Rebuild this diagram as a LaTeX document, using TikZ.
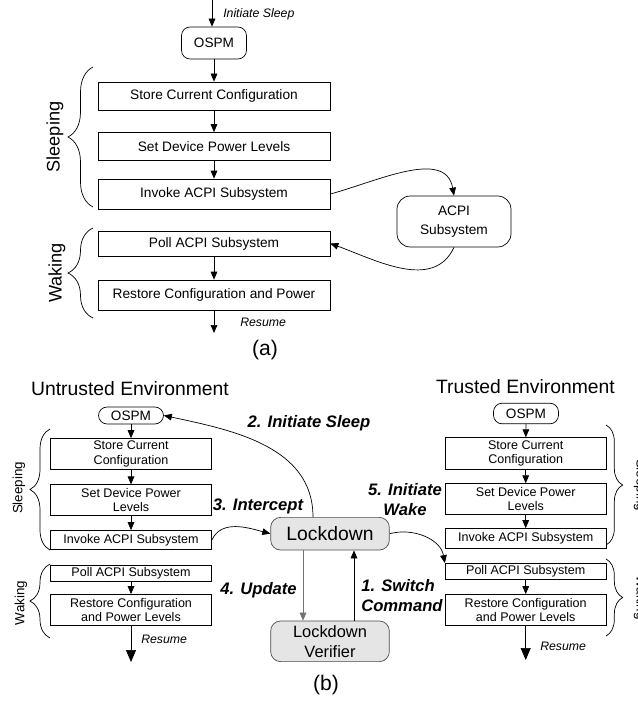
\documentclass[tikz,border=0pt]{standalone}
\usepackage{fontspec}
\setmainfont{Liberation Sans}
\usetikzlibrary{%
  arrows.meta,%
  calc,%
  decorations.pathreplacing%
}

\begin{document}
\begin{tikzpicture}[x=0.03cm,y=-0.03cm,line width=0.6pt,
  >={Triangle[length=2.4mm,width=2mm]},
  stepA/.style={draw,minimum width=6.96cm,minimum height=0.84cm,inner sep=1pt,
    font=\fontsize{11.7}{14}\selectfont},
  stepB/.style={draw,minimum width=4.83cm,inner sep=0.5pt,align=center,
    font=\fontsize{10.7}{12.2}\selectfont},
  ospm/.style={draw,rounded corners=0.26cm,minimum width=1.95cm,inner sep=1pt,
    font=\fontsize{11.6}{13}\selectfont},
  lockbox/.style={draw=black!70,fill=black!10,rounded corners=0.3cm,
    minimum width=3.56cm,inner sep=1pt,align=center},
  cue/.style={font=\fontsize{10.5}{12}\selectfont\itshape},
  step label/.style={font=\fontsize{14.2}{17}\selectfont\bfseries\itshape},
  phase/.style={font=\fontsize{#1}{#1}\selectfont},
  brc/.style={decorate,decoration={brace,amplitude=#1}},
  bigtip/.style={-{Triangle[length=3.6mm,width=3mm]}}
]
  \useasboundingbox (0,0) rectangle (637,702);
  \clip (0,0) rectangle (637,702);

  % (a)
  \coordinate (sleepA) at (212,0);
  \node[ospm,minimum height=0.96cm] (ospmA) at (214,43) {OSPM};
  \node[stepA] (storeA) at (214,96) {Store Current Configuration};
  \node[stepA] (setA) at (214,146.5) {Set Device Power Levels};
  \node[stepA,minimum height=0.9cm] (invA) at (214,194) {Invoke ACPI Subsystem};
  \node[stepA,minimum height=0.75cm] (pollA) at (214,243.5) {Poll ACPI Subsystem};
  \node[stepA,minimum height=0.9cm] (restA) at (214,295) {Restore Configuration and Power};
  \node[draw,rounded corners=0.4cm,minimum width=3.42cm,minimum height=1.53cm,
    align=center,font=\fontsize{11.7}{16}\selectfont] (acpi) at (454,221.5) {ACPI\\Subsystem};
  \coordinate (resA) at (214,333);

  \draw[->] (sleepA) -- (sleepA |- ospmA.north);
  \node[cue,anchor=west] (cueA) at (219,14) {Initiate Sleep};
  \draw[->] (ospmA) -- (storeA);
  \draw[->] (storeA) -- (setA);
  \draw[->] (setA) -- (invA);
  \draw[->] (pollA) -- (restA);
  \draw[->] (restA.south) -- (resA);
  \node[cue,anchor=west] (resLblA) at (236,322) {Resume};
  \draw[->] (invA.east) to[out=15,in=100] (acpi.north);
  \draw[->] (acpi.south) to[out=-115,in=-20] (pollA.east);

  \draw[brc=0.75cm] (93,207) -- (93,67);
  \draw[brc=0.75cm] (93,318) -- (93,228);
  \node[phase=15.5,rotate=90] (slpA) at (55,137) {Sleeping};
  \node[phase=15.5,rotate=90] (wakA) at (57,273) {Waking};
  \node[font=\fontsize{18}{20}\selectfont] (capA) at (265,350) {(a)};

  % (b) untrusted side
  \node[font=\fontsize{16.5}{19}\selectfont] (untr) at (130,389) {Untrusted Environment};
  \node[ospm,minimum height=0.51cm] (ospmL) at (131,415.5) {OSPM};
  \node[stepB,minimum height=0.93cm] (storeL) at (131,454) {Store Current\\Configuration};
  \node[stepB,minimum height=0.915cm] (setL) at (131,500) {Set Device Power\\Levels};
  \node[stepB,minimum height=0.57cm] (invL) at (131,540) {Invoke ACPI Subsystem};
  \node[stepB,minimum height=0.48cm] (pollL) at (131,573) {Poll ACPI Subsystem};
  \node[stepB,minimum height=0.93cm] (restL) at (131,610) {Restore Configuration\\and Power Levels};
  \coordinate (resL) at (131,662);

  \draw[->] (ospmL) -- (storeL);
  \draw[->] (storeL) -- (setL);
  \draw[->] (setL) -- (invL);
  \draw[->] (pollL) -- (restL);
  \draw[bigtip] (restL.south) -- (resL);
  \node[cue,anchor=west] (resLblL) at (137,639) {Resume};

  \draw[brc=0.6cm] (50,550) -- (50,429);
  \draw[brc=0.6cm] (50,638) -- (50,564);
  \node[phase=11.4,rotate=90] (slpL) at (19,488) {Sleeping};
  \node[phase=11.4,rotate=90] (wakL) at (21,603) {Waking};

  % (b) trusted side
  \node[font=\fontsize{16.5}{19}\selectfont] (trus) at (525.5,387) {Trusted Environment};
  \node[ospm,minimum height=0.62cm] (ospmR) at (526,413.5) {OSPM};
  \node[stepB,minimum height=0.95cm] (storeR) at (525.7,453.5) {Store Current\\Configuration};
  \node[stepB,minimum height=0.92cm] (setR) at (525.7,499) {Set Device Power\\Levels};
  \node[stepB,minimum height=0.6cm] (invR) at (525.7,538.5) {Invoke ACPI Subsystem};
  \node[stepB,minimum height=0.48cm] (pollR) at (525.7,571.5) {Poll ACPI Subsystem};
  \node[stepB,minimum height=0.93cm] (restR) at (525.7,610) {Restore Configuration\\and Power Levels};
  \coordinate (resR) at (525.7,660);

  \draw[->] (ospmR) -- (storeR);
  \draw[->] (storeR) -- (setR);
  \draw[->] (setR) -- (invR);
  \draw[->] (pollR) -- (restR);
  \draw[bigtip] (restR.south) -- (resR);
  \node[cue,anchor=west] (resLblR) at (536,646) {Resume};

  \draw[brc=0.5cm] (606,425) -- (606,545);
  \draw[brc=0.5cm] (606,559) -- (606,636);
  \node[phase=11.4,rotate=-90] (slpR) at (640,485) {Sleeping};
  \node[phase=11.4,rotate=-90] (wakR) at (640,597.5) {Waking};

  % lockdown
  \node[lockbox,minimum height=0.98cm,font=\fontsize{16.5}{19}\selectfont] (lock) at (330,533.7) {Lockdown};
  \node[lockbox,minimum height=1.22cm,font=\fontsize{14}{17}\selectfont] (verif) at (330,641.3) {Lockdown\\Verifier};

  \draw[->,draw=black!55] ($(lock.south)+(-27,0)$) -- ($(verif.north)+(-27,0)$);
  \draw[->] ($(verif.north)+(24,0)$) -- ($(lock.south)+(24,0)$);
  \node[step label,anchor=east] (updLbl) at (301,590) {4. Update};
  \node[step label,anchor=west,align=left] (swLbl) at (357,596) {1. Switch\\Command};
  \draw[->] ($(lock.north)+(-17,0)$) to[out=90,in=-12] (ospmL.east);
  \node[step label] (slpLbl) at (309,423) {2. Initiate Sleep};
  \draw[->] (invL.east) to[out=65,in=165] (lock.west);
  \node[step label] (icpLbl) at (258,506) {3. Intercept};
  \draw[->] (lock.east) to[out=15,in=100] (pollR.north west);
  \node[step label,align=center] (wakeLbl) at (405,500) {5. Initiate\\Wake};

  \node[font=\fontsize{18}{20}\selectfont] (capB) at (326,685) {(b)};
\end{tikzpicture}
\end{document}
